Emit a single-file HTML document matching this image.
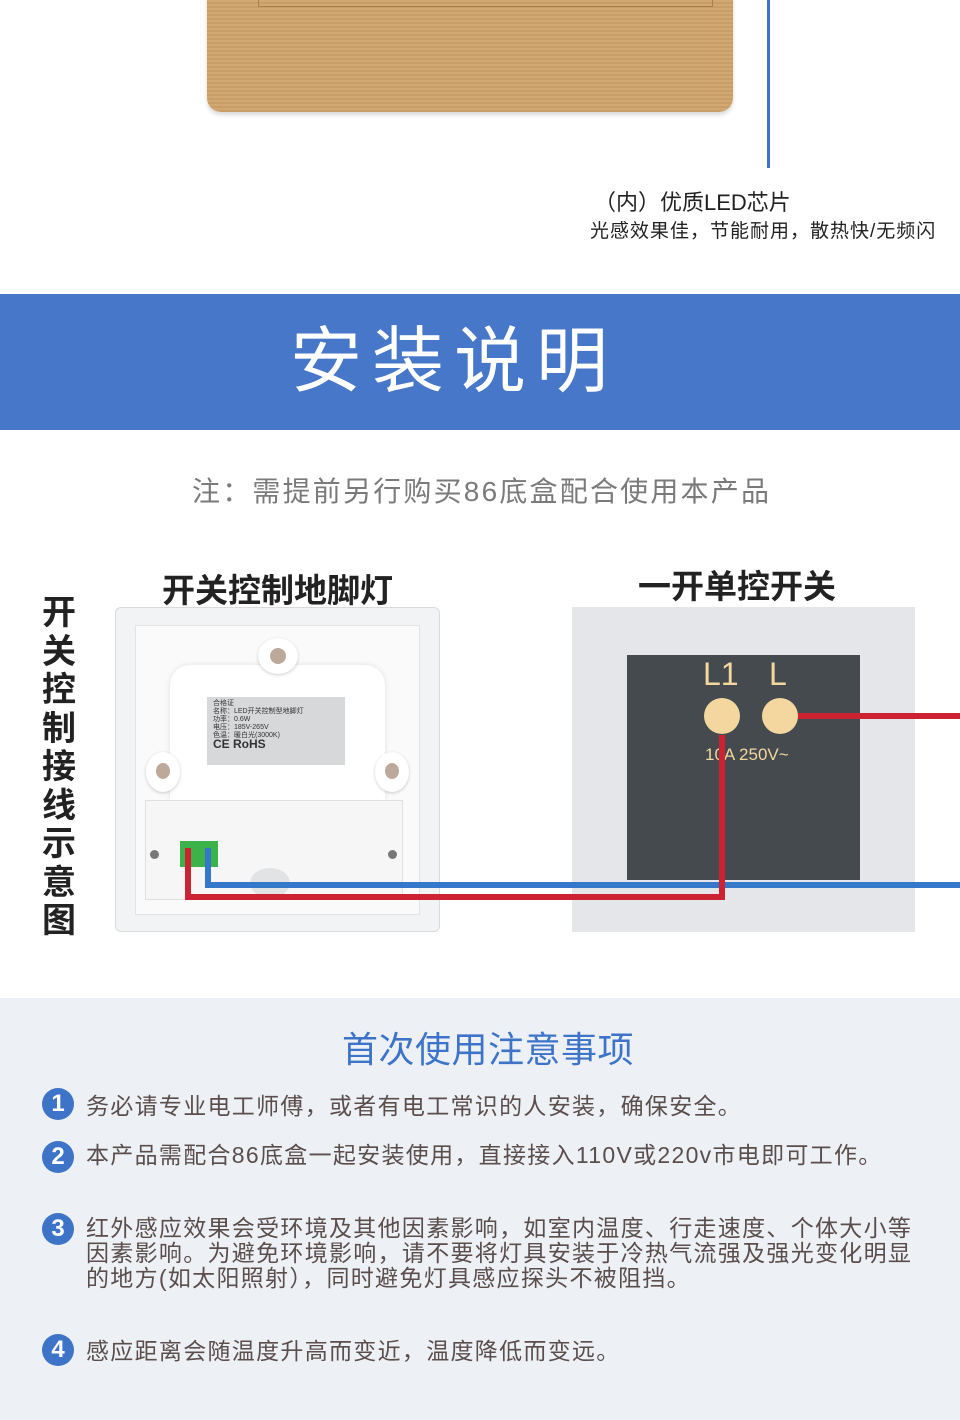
<!DOCTYPE html>
<html><head><meta charset="utf-8"><style>
*{margin:0;padding:0;box-sizing:border-box}
body{width:960px;height:1420px;position:relative;background:#fff;overflow:hidden;font-family:"Liberation Sans","Noto Sans CJK SC",sans-serif}
.a{position:absolute;white-space:nowrap}
.n{position:absolute;left:42px;width:32px;height:32px;border-radius:50%;background:#3d74c8;color:#fff;font-size:24px;font-weight:bold;text-align:center;line-height:32px}
.t{position:absolute;left:86px;font-size:23px;color:#5a4d4b;line-height:25px;letter-spacing:1.3px}
</style></head><body>
<div class="a" style="left:207px;top:-10px;width:526px;height:122px;border-radius:0 0 14px 14px;background:repeating-linear-gradient(180deg,#c99d66 0 2px,#d2a872 2px 4px);box-shadow:0 3px 4px rgba(0,0,0,.15)"></div>
<div class="a" style="left:258px;top:0;width:455px;height:7px;border:1px solid #a97d4c;border-top:none"></div>
<div class="a" style="left:767px;top:0;width:3px;height:168px;background:#3d74c8"></div>
<div class="a" style="left:594px;top:185px;font-size:22px;color:#222">（内）优质LED芯片</div>
<div class="a" style="left:590px;top:216px;font-size:19px;color:#222;letter-spacing:1px">光感效果佳，节能耐用，散热快/无频闪</div>
<div class="a" style="left:0;top:294px;width:960px;height:136px;background:#4677c9"></div>
<div class="a" style="left:290px;top:302px;font-size:72px;color:#fff;letter-spacing:10px">安装说明</div>
<div class="a" style="left:192px;top:470px;font-size:28px;color:#7a7a7a;letter-spacing:2.2px">注：需提前另行购买86底盒配合使用本产品</div>
<div class="a" style="left:162px;top:564px;font-size:33px;color:#222;font-weight:bold">开关控制地脚灯</div>
<div class="a" style="left:638px;top:560px;font-size:33px;color:#222;font-weight:bold">一开单控开关</div>
<div class="a" style="left:42px;top:594px;width:38px;font-size:34px;line-height:38.5px;color:#222;font-weight:bold;white-space:normal">开关控制接线示意图</div>
<!-- left device -->
<div class="a" style="left:115px;top:607px;width:325px;height:325px;background:#f2f3f5;border:1px solid #d8dadd;border-radius:6px"></div>
<div class="a" style="left:135px;top:625px;width:285px;height:290px;background:#fafafa;border:1px solid #e2e3e5"></div>
<div class="a" style="left:170px;top:665px;width:215px;height:135px;background:#fff;border-radius:20px 20px 0 0;box-shadow:0 0 6px rgba(0,0,0,.1)"></div>
<div class="a" style="left:207px;top:697px;width:138px;height:68px;background:#d6d8da;font-size:7px;line-height:8px;color:#333;padding:3px 6px;white-space:normal">合格证<br>名称：LED开关控制型地脚灯<br>功率：0.6W<br>电压：185V-265V<br>色温：暖白光(3000K)<br><b style="font-size:12px">CE RoHS</b></div>
<div class="a" style="left:258px;top:638px;width:40px;height:36px;border-radius:50%;background:#fff;box-shadow:0 1px 3px rgba(0,0,0,.2)"></div>
<div class="a" style="left:270px;top:648px;width:16px;height:16px;border-radius:50%;background:#bca99a"></div>
<div class="a" style="left:146px;top:752px;width:34px;height:40px;border-radius:50%;background:#fff;box-shadow:0 1px 3px rgba(0,0,0,.2)"></div>
<div class="a" style="left:156px;top:763px;width:14px;height:16px;border-radius:50%;background:#bca99a"></div>
<div class="a" style="left:375px;top:752px;width:34px;height:40px;border-radius:50%;background:#fff;box-shadow:0 1px 3px rgba(0,0,0,.2)"></div>
<div class="a" style="left:385px;top:763px;width:14px;height:16px;border-radius:50%;background:#bca99a"></div>
<div class="a" style="left:145px;top:800px;width:258px;height:100px;background:#f6f6f7;border:1px solid #e0e0e2"></div>
<div class="a" style="left:180px;top:841px;width:38px;height:26px;background:#3bb34a"></div>
<div class="a" style="left:150px;top:850px;width:9px;height:9px;border-radius:50%;background:#777"></div>
<div class="a" style="left:388px;top:850px;width:9px;height:9px;border-radius:50%;background:#777"></div>
<div class="a" style="left:250px;top:868px;width:40px;height:30px;border-radius:50%;background:#e2e3e5"></div>
<!-- right switch -->
<div class="a" style="left:572px;top:607px;width:343px;height:325px;background:#e4e6ea"></div>
<div class="a" style="left:627px;top:655px;width:233px;height:225px;background:#454a4f"></div>
<div class="a" style="left:703px;top:656px;font-size:32px;color:#f3d79e">L1</div>
<div class="a" style="left:769px;top:656px;font-size:32px;color:#f3d79e">L</div>
<div class="a" style="left:704px;top:716px;width:36px;height:36px;margin-top:-18px;border-radius:50%;background:#f3d79e"></div>
<div class="a" style="left:762px;top:716px;width:36px;height:36px;margin-top:-18px;border-radius:50%;background:#f3d79e"></div>
<div class="a" style="left:705px;top:745px;font-size:17px;color:#f3d79e">10A 250V~</div>
<!-- wires -->
<svg class="a" style="left:0;top:0" width="960" height="1000">
<polyline points="208,848 208,885 960,885" fill="none" stroke="#3577c9" stroke-width="6"/>
<polyline points="188,848 188,897 722,897 722,735" fill="none" stroke="#cc2231" stroke-width="6"/>
<polyline points="798,716 960,716" fill="none" stroke="#cc2231" stroke-width="6"/>
</svg>
<!-- bottom -->
<div class="a" style="left:0;top:998px;width:960px;height:422px;background:#edf1f6"></div>
<div class="a" style="left:342px;top:1021px;font-size:36px;color:#3d74c8;letter-spacing:0.5px">首次使用注意事项</div>
<div class="n" style="top:1088px">1</div><div class="t" style="top:1094px">务必请专业电工师傅，或者有电工常识的人安装，确保安全。</div>
<div class="n" style="top:1141px">2</div><div class="t" style="top:1143px">本产品需配合86底盒一起安装使用，直接接入110V或220v市电即可工作。</div>
<div class="n" style="top:1213px">3</div><div class="t" style="top:1216px;white-space:normal;width:840px">红外感应效果会受环境及其他因素影响，如室内温度、行走速度、个体大小等<br>因素影响。为避免环境影响，请不要将灯具安装于冷热气流强及强光变化明显<br>的地方(如太阳照射），同时避免灯具感应探头不被阻挡。</div>
<div class="n" style="top:1334px">4</div><div class="t" style="top:1339px">感应距离会随温度升高而变近，温度降低而变远。</div>
</body></html>
